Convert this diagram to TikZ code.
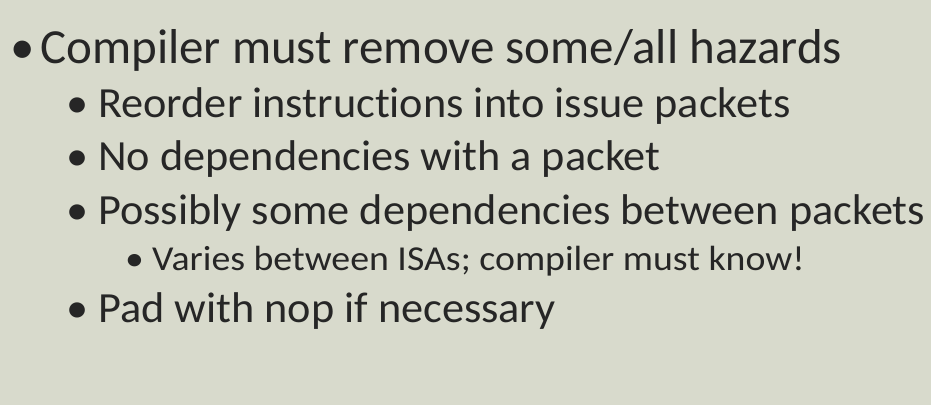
\documentclass[tikz,border=0pt]{standalone}
\usepackage{fontspec}
\setmainfont{Carlito}[Ligatures=CommonOff]
\newfontfamily\lvltwofont{Carlito}[Ligatures=CommonOff,FakeStretch=1.03]
\newfontfamily\lvlthreefont{Carlito}[Ligatures=CommonOff,FakeStretch=1.08]
\definecolor{slidebg}{HTML}{D8DACC}
\definecolor{slidetext}{HTML}{262626}
\begin{document}
\begin{tikzpicture}[x=1pt,y=-1pt,
  lvlone/.style={anchor=base west,inner sep=0pt,text=slidetext,font=\fontsize{49}{56}\selectfont},
  lvltwo/.style={anchor=base west,inner sep=0pt,text=slidetext,font=\lvltwofont\fontsize{43}{50}\selectfont},
  lvlthree/.style={anchor=base west,inner sep=0pt,text=slidetext,font=\lvlthreefont\fontsize{35}{40}\selectfont}]
\fill[slidebg] (0,0) rectangle (931,405);
\useasboundingbox (0,0) rectangle (931,405);
\node[lvlone] (b1) at (10,63) {•};
\node[lvlone] (t1) at (40,63) {Compiler must remove some/all hazards};
\node[lvltwo] (b2) at (66,117) {•};
\node[lvltwo] (t2) at (98,117) {Reorder instructions into issue packets};
\node[lvltwo] (b3) at (66,170) {•};
\node[lvltwo] (t3) at (98,170) {No dependencies with a packet};
\node[lvltwo] (b4) at (66,224) {•};
\node[lvltwo] (t4) at (98,224) {Possibly some dependencies between packets};
\node[lvlthree] (b5) at (125,270) {•};
\node[lvlthree] (t5) at (152,270) {Varies between ISAs; compiler must know!};
\node[lvltwo] (b6) at (66,322) {•};
\node[lvltwo] (t6) at (98,322) {Pad with nop if necessary};
\end{tikzpicture}
\end{document}
